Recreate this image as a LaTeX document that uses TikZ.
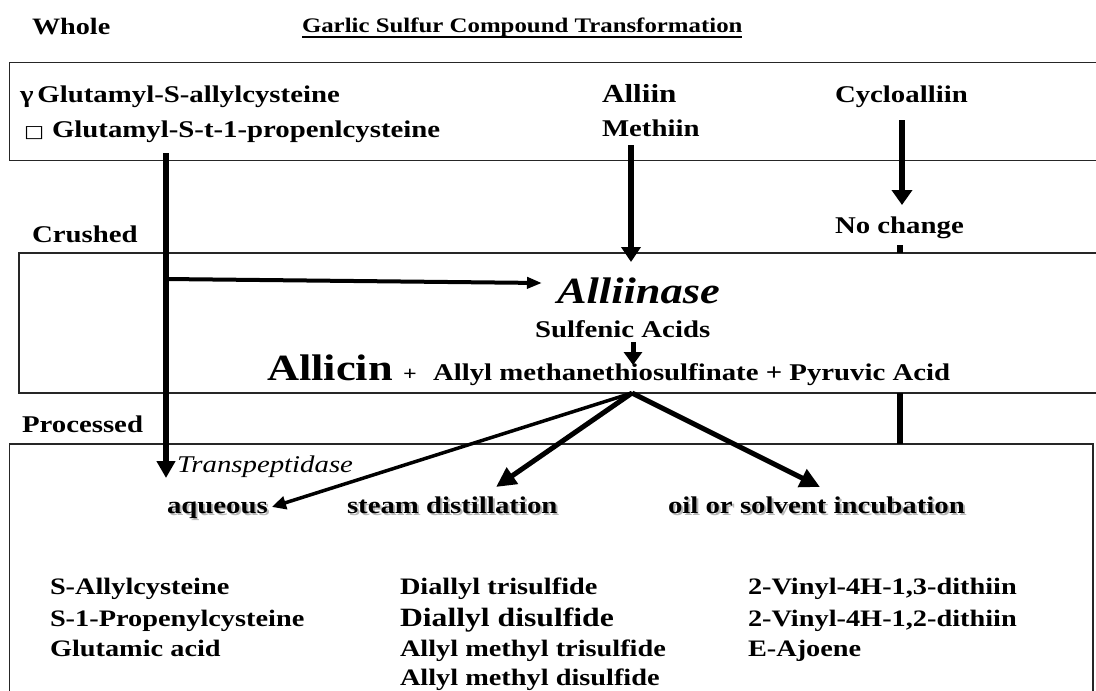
\documentclass[tikz,border=0pt]{standalone}
\usepackage{fontspec}
\setmainfont{Liberation Serif}[FakeStretch=1.2]
\newfontfamily\symfont{DejaVu Sans}[FakeStretch=1.25]
\usetikzlibrary{arrows.meta}
\newcommand{\fsz}[1]{\fontsize{#1}{#1}\selectfont}
% label with a soft grey drop shadow
\newcommand{\shadowtxt}[1]{\makebox[0pt][l]{\hspace{2pt}\raisebox{-2pt}{\color{black!28}#1}}#1}

\begin{document}
\begin{tikzpicture}[x=1pt, y=-1pt,
  txt/.style={inner sep=0pt, outer sep=0pt, anchor=base west, font=\bfseries\fsz{24}},
  col/.style={txt, font=\bfseries\fsz{23.6}},
  panel/.style={draw=black!85, line width=1.3pt},
  heavy/.style={line width=6pt},
  bigtip/.style={-{Triangle[length=15pt,width=19pt]}},
]
\useasboundingbox (0,0) rectangle (1096,691);
\fill[white] (0,0) rectangle (1096,691);
\clip (0,0) rectangle (1096,691);

% stage panels
\draw[panel] (9.5,62.5) rectangle (1110,160.5);
\draw[panel] (19,253) rectangle (1110,393);
\draw[panel] (9.5,444) rectangle (1093,720);

% headings
\node[txt, font=\bfseries\fsz{23.5}] (whole) at (32,34) {Whole};
\node[txt, font=\bfseries\fsz{20.7}] (title) at (302,32) {Garlic Sulfur Compound Transformation};
\draw[line width=1.5pt] ([yshift=-5pt]title.base west) -- ([yshift=-5pt]title.base east);
\node[txt] (crushed) at (32,242) {Crushed};
\node[txt] (processed) at (22,432) {Processed};

% whole garlic compounds
\node[txt] (gsac) at (20,102) {γ\hspace{4pt}Glutamyl-S-allylcysteine};
\node[txt, font=\symfont\fsz{17}] (sq) at (24,137) {□};
\node[txt] (gspc) at (52,137) {Glutamyl-S-t-1-propenlcysteine};
\node[txt, font=\bfseries\fsz{26}] (alliin) at (602,102) {Alliin};
\node[txt] (methiin) at (602,136) {Methiin};
\node[txt] (cyclo) at (835,102) {Cycloalliin};
\node[txt] (nochange) at (835,233) {No change};

% crushed garlic
\node[txt, font=\bfseries\itshape\fsz{37}] (alliinase) at (557,303) {Alliinase};
\node[txt] (sulfenic) at (535,337) {Sulfenic Acids};
\node[txt, font=\bfseries\fsz{37}] (allicin) at (267,380) {Allicin};
\node[txt, font=\bfseries\fsz{20}] (plus) at (403,380) {+};
\node[txt] (products) at (433,380) {Allyl methanethiosulfinate + Pyruvic Acid};

% processed garlic
\node[txt, font=\itshape\fsz{24}] (transp) at (177,472) {Transpeptidase};
\node[txt] (aqueous) at (167,513) {\shadowtxt{aqueous}};
\node[txt] (steam) at (347,513) {\shadowtxt{steam distillation}};
\node[txt] (oil) at (668,513) {\shadowtxt{oil or solvent incubation}};

\node[col] (sac) at (50,594) {S-Allylcysteine};
\node[col] (spc) at (50,626) {S-1-Propenylcysteine};
\node[col] (glu) at (50,656) {Glutamic acid};
\node[col] (dats) at (400,594) {Diallyl trisulfide};
\node[col, font=\bfseries\fsz{26.4}] (dads) at (400,626) {Diallyl disulfide};
\node[col] (amts) at (400,656) {Allyl methyl trisulfide};
\node[col] (amds) at (400,685) {Allyl methyl disulfide};
\node[col] (vd13) at (748,594) {2-Vinyl-4H-1,3-dithiin};
\node[col] (vd12) at (748,626) {2-Vinyl-4H-1,2-dithiin};
\node[col] (ajo) at (748,656) {E-Ajoene};

% connector end points
\coordinate (gStart) at (166,153);
\coordinate (gEnd) at (166,478);
\coordinate (gBranch) at (166,279);
\coordinate (enzIn) at (542,283);
\coordinate (aStart) at (631,145);
\coordinate (aEnd) at (631,262);
\coordinate (cStart) at (902,120);
\coordinate (cEnd) at (902,205);
\coordinate (ncA) at (900,245);
\coordinate (ncB) at (900,253);
\coordinate (ncC) at (900,393);
\coordinate (ncD) at (900,444);
\coordinate (sStart) at (633,342);
\coordinate (sEnd) at (633,365);
\coordinate (split) at (632,393);
\coordinate (toAq) at (272,507);
\coordinate (toSt) at (496,487);
\coordinate (toOil) at (820,487);

% connectors
\draw[heavy, -{Triangle[length=17pt,width=18pt]}] (gStart) -- (gEnd);
\draw[line width=4pt, -{Triangle[length=15pt,width=11pt]}] (gBranch) -- (enzIn);
\draw[heavy, bigtip] (aStart) -- (aEnd);
\draw[heavy, -{Triangle[length=15pt,width=20pt]}] (cStart) -- (cEnd);
\draw[heavy] (ncA) -- (ncB);
\draw[heavy] (ncC) -- (ncD);
\draw[line width=5pt, -{Triangle[length=13pt,width=18pt]}] (sStart) -- (sEnd);
\draw[line width=3.5pt, -{Triangle[length=14pt,width=13pt]}] (split) -- (toAq);
\draw[line width=5pt, -{Triangle[length=20pt,width=19pt]}] (split) -- (toSt);
\draw[line width=5pt, -{Triangle[length=20pt,width=19pt]}] (split) -- (toOil);
\end{tikzpicture}
\end{document}
